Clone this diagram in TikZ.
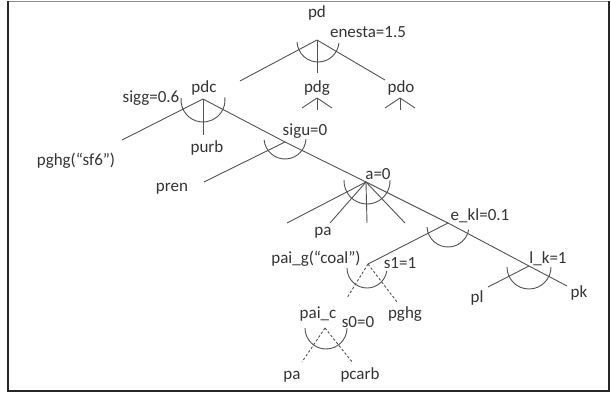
\documentclass[tikz,border=0pt]{standalone}
\usepackage{fontspec}
\setmainfont{Carlito}
\begin{document}
\begin{tikzpicture}[x=1pt,y=-1pt,
  ln/.style={draw=black!68, line width=0.9pt},
  dl/.style={draw=black!68, line width=0.9pt, dash pattern=on 2.5pt off 2pt},
  lbl/.style={font=\fontsize{17}{20}\selectfont, text=black!80, inner sep=0pt, anchor=base},
]
\useasboundingbox (0,0) rectangle (611,393);
% frame
\draw[black!45, line width=0.8pt] (8,1.2) rectangle (608.8,390.3);
\draw[black!85, line width=2pt] (7.8,0.8) -- (7.8,390.5) -- (609,390.5) -- (609,0.8);

% apexes
\coordinate (PD) at (317,40);
\coordinate (PDC) at (203,99);
\coordinate (SIGU) at (285,142);
\coordinate (A) at (366,182);
\coordinate (EKL) at (448,223);
\coordinate (LK) at (529,266);
\coordinate (PAIG) at (368,264);
\coordinate (PAIC) at (325,328);
\coordinate (PDGa) at (317,98);
\coordinate (PDOa) at (400,98);

% free ends
\coordinate (PDl) at (240,81);
\coordinate (PDd) at (317,73);
\coordinate (PDr) at (385,80);
\coordinate (PDCl) at (122,140);
\coordinate (PDCd) at (203,135);
\coordinate (SIGUl) at (204,182);
\coordinate (A1) at (287,223);
\coordinate (A2) at (330,223);
\coordinate (A3) at (367,223);
\coordinate (A4) at (405,223);
\coordinate (LKl) at (488,287);
\coordinate (LKr) at (567,286);
\coordinate (PAIGl) at (347,298);
\coordinate (PAIGr) at (397,302);
\coordinate (PAICl) at (302,362);
\coordinate (PAICr) at (353,363);
\coordinate (PDG1) at (302,108);
\coordinate (PDG2) at (317,110);
\coordinate (PDG3) at (332,108);
\coordinate (PDO1) at (385,108);
\coordinate (PDO2) at (400,110);
\coordinate (PDO3) at (415,108);

% arc centres
\coordinate (cPD) at (318,41);
\coordinate (cPDC) at (203,100);
\coordinate (cSIGU) at (285,138);
\coordinate (cA) at (367,181);
\coordinate (cEKL) at (448,226);
\coordinate (cLK) at (529,267);
\coordinate (cPAIG) at (367,268);
\coordinate (cPAIC) at (326,328);

% connectors
\draw[ln] (PD) -- (PDl);
\draw[ln] (PD) -- (PDd);
\draw[ln] (PD) -- (PDr);
\draw[ln] (PDC) -- (PDCl);
\draw[ln] (PDC) -- (PDCd);
\draw[ln] (PDC) -- (SIGU);
\draw[ln] (SIGU) -- (SIGUl);
\draw[ln] (SIGU) -- (A);
\draw[ln] (A) -- (A1);
\draw[ln] (A) -- (A2);
\draw[ln] (A) -- (A3);
\draw[ln] (A) -- (A4);
\draw[ln] (A) -- (EKL);
\draw[ln] (EKL) -- (LK);
\draw[ln] (EKL) -- (PAIG);
\draw[ln] (LK) -- (LKl);
\draw[ln] (LK) -- (LKr);
\draw[dl] (PAIG) -- (PAIGl);
\draw[dl] (PAIG) -- (PAIGr);
\draw[dl] (PAIC) -- (PAICl);
\draw[dl] (PAIC) -- (PAICr);
\draw[ln] (PDGa) -- (PDG1);
\draw[ln] (PDGa) -- (PDG2);
\draw[ln] (PDGa) -- (PDG3);
\draw[ln] (PDOa) -- (PDO1);
\draw[ln] (PDOa) -- (PDO2);
\draw[ln] (PDOa) -- (PDO3);

% arcs
\draw[ln] ([shift={(183:21pt)}]cPD) arc[start angle=183,end angle=355,radius=21pt];
\draw[ln] ([shift={(175:22pt)}]cPDC) arc[start angle=175,end angle=367,radius=22pt];
\draw[ln] ([shift={(185:21pt)}]cSIGU) arc[start angle=185,end angle=357,radius=21pt];
\draw[ln] ([shift={(178:23pt)}]cA) arc[start angle=178,end angle=362,radius=23pt];
\draw[ln] ([shift={(183:21pt)}]cEKL) arc[start angle=183,end angle=350,radius=21pt];
\draw[ln] ([shift={(180:22pt)}]cLK) arc[start angle=180,end angle=360,radius=22pt];
\draw[ln] ([shift={(180:20pt)}]cPAIG) arc[start angle=180,end angle=352,radius=20pt];
\draw[ln] ([shift={(180:21pt)}]cPAIC) arc[start angle=180,end angle=360,radius=21pt];

% labels
\node[lbl] (tpd) at (317,18) {pd};
\node[lbl] (tenesta) at (368,38) {enesta=1.5};
\node[lbl] (tpdg) at (317,93) {pdg};
\node[lbl] (tpdo) at (401,93) {pdo};
\node[lbl] (tpdc) at (204,93) {pdc};
\node[lbl] (tsigg) at (151,103) {sigg=0.6};
\node[lbl] (tpghgsf) at (76,166) {pghg(“sf6”)};
\node[lbl] (tpurb) at (207,153) {purb};
\node[lbl] (tpren) at (172,192) {pren};
\node[lbl] (tsigu) at (305,136) {sigu=0};
\node[lbl] (ta) at (378,180) {a=0};
\node[lbl] (tpa1) at (323,236) {pa};
\node[lbl] (tekl) at (480,221) {e\_kl=0.1};
\node[lbl] (tlk) at (548,263) {l\_k=1};
\node[lbl] (tpl) at (477,302) {pl};
\node[lbl] (tpk) at (579,297) {pk};
\node[lbl] (tpaig) at (316,263) {pai\_g(“coal”)};
\node[lbl] (ts1) at (400,269) {s1=1};
\node[lbl] (tpghg) at (405,318) {pghg};
\node[lbl] (tpaic) at (318,318) {pai\_c};
\node[lbl] (ts0) at (358,327) {s0=0};
\node[lbl] (tpa2) at (292,379) {pa};
\node[lbl] (tpcarb) at (360,379) {pcarb};
\end{tikzpicture}
\end{document}
